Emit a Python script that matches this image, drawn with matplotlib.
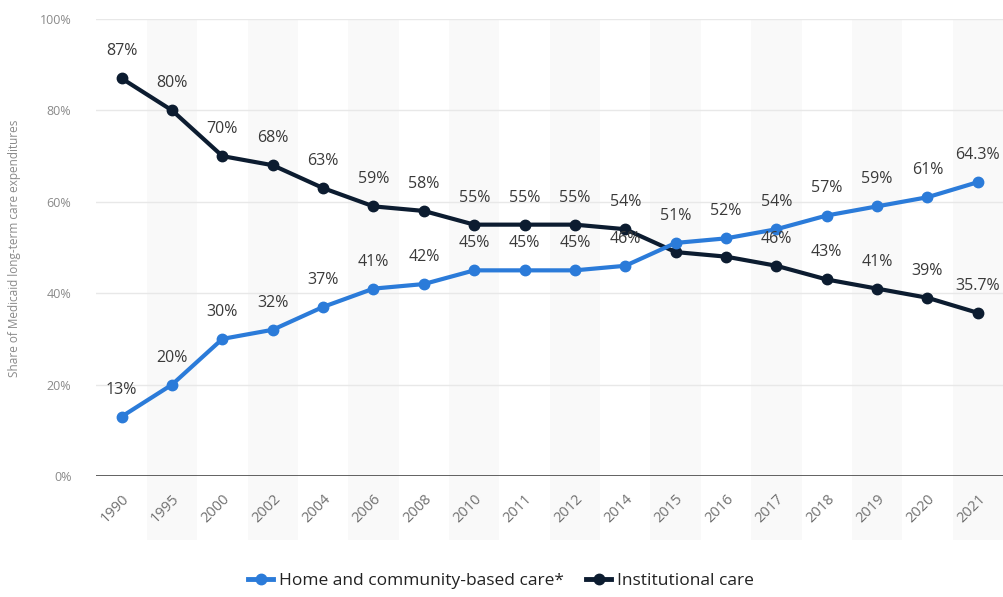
import matplotlib
matplotlib.use("Agg")
import matplotlib.pyplot as plt
from matplotlib.patches import Rectangle
from matplotlib.lines import Line2D
import numpy as np

plt.rcParams['font.family'] = ['Open Sans', 'DejaVu Sans']

years = ["1990", "1995", "2000", "2002", "2004", "2006", "2008", "2010", "2011",
         "2012", "2014", "2015", "2016", "2017", "2018", "2019", "2020", "2021"]
home = [13, 20, 30, 32, 37, 41, 42, 45, 45, 45, 46, 51, 52, 54, 57, 59, 61, 64.3]
institutional = [87, 80, 70, 68, 63, 59, 58, 55, 55, 55, 54, 49, 48, 46, 43, 41, 39, 35.7]
# labels hidden where they would collide with the other series
inst_hidden = ["2015", "2016"]

BLUE = "#2b7bd9"
NAVY = "#0c1c30"

fig = plt.figure(figsize=(10.04, 5.97), dpi=100)
ax = fig.add_axes([96.5 / 1004, 1 - 476 / 597, (1003 - 96.5) / 1004, (476 - 19) / 597])

x = np.arange(len(years))

# alternating column shading, running down behind the tick labels
for i in x[1::2]:
    ax.add_patch(Rectangle((i - 0.5, -0.14), 1, 1.14, transform=ax.get_xaxis_transform(),
                           facecolor="#f9f9f9", edgecolor="none", clip_on=False, zorder=0))

for v in [20, 40, 60, 80, 100]:
    ax.axhline(v, color="#e8e8e8", lw=1, zorder=1)
ax.axhline(0, color="#555555", lw=1.3, zorder=2)

ax.plot(x, home, color=BLUE, lw=3, marker="o", ms=7.5, zorder=4)
ax.plot(x, institutional, color=NAVY, lw=3, marker="o", ms=7.5, zorder=3)

def fmt(v):
    return f"{v:g}%"

for i, v in enumerate(home):
    ax.annotate(fmt(v), (x[i], v), xytext=(0, 19.5), textcoords="offset points",
                ha="center", va="center", fontsize=11.5, color="#3a3a3a", zorder=5)
for i, v in enumerate(institutional):
    if years[i] in inst_hidden:
        continue
    ax.annotate(fmt(v), (x[i], v), xytext=(0, 19.5), textcoords="offset points",
                ha="center", va="center", fontsize=11.5, color="#3a3a3a", zorder=5)

ax.set_xlim(-0.5, len(years) - 0.5)
ax.set_ylim(0, 100)
ax.set_yticks([0, 20, 40, 60, 80, 100])
ax.set_yticklabels([f"{t}%" for t in [0, 20, 40, 60, 80, 100]], fontsize=9, color="#8a8a8a")
ax.set_xticks(x)
ax.set_xticklabels(years, rotation=45, ha="right", rotation_mode="anchor",
                   fontsize=10.5, color="#707070")
ax.tick_params(axis="both", length=0)
ax.tick_params(axis="x", pad=11)
ax.tick_params(axis="y", pad=18)
for s in ax.spines.values():
    s.set_visible(False)
ax.set_facecolor("none")

fig.text(15 / 1004, 1 - 248 / 597, "Share of Medicaid long-term care expenditures",
         rotation=90, ha="center", va="center", fontsize=8.5, color="#8a8a8a")

handles = [Line2D([0], [0], color=BLUE, lw=3.5, marker="o", ms=7.5),
           Line2D([0], [0], color=NAVY, lw=3.5, marker="o", ms=7.5)]
fig.legend(handles, ["Home and community-based care*", "Institutional care"],
           loc="center", bbox_to_anchor=(501 / 1004, 1 - 581 / 597), ncol=2,
           frameon=False, fontsize=12.5, handlelength=1.4, columnspacing=1.3,
           handletextpad=0.35, labelcolor="#222222")

fig.savefig("out.png", dpi=100)
